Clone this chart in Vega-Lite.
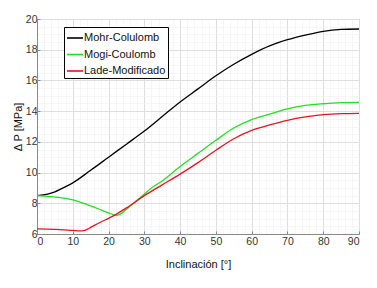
{
  "$schema": "https://vega.github.io/schema/vega-lite/v6.json",
  "width": 322,
  "height": 215,
  "padding": {"left": 37, "top": 19, "right": 18, "bottom": 54},
  "autosize": {"type": "none"},
  "background": "white",
  "config": {
    "view": {"stroke": "#8a8a8a", "strokeWidth": 1},
    "font": "Liberation Sans",
    "axis": {"labelFont": "Liberation Sans", "titleFont": "Liberation Sans", "labelColor": "#333", "titleColor": "#111", "labelFontSize": 10.5, "titleFontSize": 11, "titleFontWeight": "normal"}
  },
  "data": {"values": [
    {"s": "Mohr-Colulomb", "x": 0, "y": 8.5},
    {"s": "Mohr-Colulomb", "x": 3, "y": 8.6},
    {"s": "Mohr-Colulomb", "x": 5, "y": 8.75},
    {"s": "Mohr-Colulomb", "x": 8, "y": 9.08},
    {"s": "Mohr-Colulomb", "x": 10, "y": 9.33},
    {"s": "Mohr-Colulomb", "x": 15, "y": 10.15},
    {"s": "Mohr-Colulomb", "x": 20, "y": 11.0},
    {"s": "Mohr-Colulomb", "x": 25, "y": 11.85},
    {"s": "Mohr-Colulomb", "x": 30, "y": 12.7},
    {"s": "Mohr-Colulomb", "x": 35, "y": 13.65},
    {"s": "Mohr-Colulomb", "x": 40, "y": 14.6},
    {"s": "Mohr-Colulomb", "x": 45, "y": 15.45},
    {"s": "Mohr-Colulomb", "x": 50, "y": 16.3},
    {"s": "Mohr-Colulomb", "x": 55, "y": 17.05},
    {"s": "Mohr-Colulomb", "x": 60, "y": 17.7},
    {"s": "Mohr-Colulomb", "x": 65, "y": 18.25},
    {"s": "Mohr-Colulomb", "x": 70, "y": 18.65},
    {"s": "Mohr-Colulomb", "x": 75, "y": 18.95},
    {"s": "Mohr-Colulomb", "x": 80, "y": 19.2},
    {"s": "Mohr-Colulomb", "x": 85, "y": 19.32},
    {"s": "Mohr-Colulomb", "x": 90, "y": 19.35},
    {"s": "Mogi-Coulomb", "x": 0, "y": 8.5},
    {"s": "Mogi-Coulomb", "x": 3, "y": 8.45},
    {"s": "Mogi-Coulomb", "x": 6, "y": 8.38},
    {"s": "Mogi-Coulomb", "x": 8, "y": 8.32},
    {"s": "Mogi-Coulomb", "x": 10, "y": 8.22},
    {"s": "Mogi-Coulomb", "x": 12, "y": 8.08},
    {"s": "Mogi-Coulomb", "x": 14, "y": 7.92},
    {"s": "Mogi-Coulomb", "x": 16, "y": 7.75},
    {"s": "Mogi-Coulomb", "x": 18, "y": 7.56},
    {"s": "Mogi-Coulomb", "x": 20, "y": 7.38},
    {"s": "Mogi-Coulomb", "x": 22, "y": 7.22},
    {"s": "Mogi-Coulomb", "x": 23, "y": 7.26},
    {"s": "Mogi-Coulomb", "x": 24, "y": 7.42},
    {"s": "Mogi-Coulomb", "x": 26, "y": 7.8},
    {"s": "Mogi-Coulomb", "x": 28, "y": 8.2},
    {"s": "Mogi-Coulomb", "x": 30, "y": 8.6},
    {"s": "Mogi-Coulomb", "x": 32, "y": 9.0},
    {"s": "Mogi-Coulomb", "x": 35, "y": 9.45},
    {"s": "Mogi-Coulomb", "x": 40, "y": 10.4},
    {"s": "Mogi-Coulomb", "x": 45, "y": 11.25},
    {"s": "Mogi-Coulomb", "x": 50, "y": 12.1},
    {"s": "Mogi-Coulomb", "x": 55, "y": 12.9},
    {"s": "Mogi-Coulomb", "x": 60, "y": 13.45},
    {"s": "Mogi-Coulomb", "x": 65, "y": 13.8},
    {"s": "Mogi-Coulomb", "x": 70, "y": 14.15},
    {"s": "Mogi-Coulomb", "x": 75, "y": 14.37},
    {"s": "Mogi-Coulomb", "x": 80, "y": 14.48},
    {"s": "Mogi-Coulomb", "x": 85, "y": 14.55},
    {"s": "Mogi-Coulomb", "x": 90, "y": 14.57},
    {"s": "Lade-Modificado", "x": 0, "y": 6.33},
    {"s": "Lade-Modificado", "x": 5, "y": 6.3},
    {"s": "Lade-Modificado", "x": 10, "y": 6.23},
    {"s": "Lade-Modificado", "x": 12, "y": 6.2},
    {"s": "Lade-Modificado", "x": 13, "y": 6.22},
    {"s": "Lade-Modificado", "x": 14.5, "y": 6.36},
    {"s": "Lade-Modificado", "x": 16, "y": 6.56},
    {"s": "Lade-Modificado", "x": 18, "y": 6.8},
    {"s": "Lade-Modificado", "x": 20, "y": 7.02},
    {"s": "Lade-Modificado", "x": 22, "y": 7.26},
    {"s": "Lade-Modificado", "x": 25, "y": 7.7},
    {"s": "Lade-Modificado", "x": 30, "y": 8.5},
    {"s": "Lade-Modificado", "x": 35, "y": 9.2},
    {"s": "Lade-Modificado", "x": 40, "y": 9.9},
    {"s": "Lade-Modificado", "x": 45, "y": 10.65},
    {"s": "Lade-Modificado", "x": 50, "y": 11.45},
    {"s": "Lade-Modificado", "x": 55, "y": 12.2},
    {"s": "Lade-Modificado", "x": 60, "y": 12.75},
    {"s": "Lade-Modificado", "x": 65, "y": 13.1},
    {"s": "Lade-Modificado", "x": 70, "y": 13.4},
    {"s": "Lade-Modificado", "x": 75, "y": 13.62},
    {"s": "Lade-Modificado", "x": 80, "y": 13.77},
    {"s": "Lade-Modificado", "x": 85, "y": 13.84},
    {"s": "Lade-Modificado", "x": 90, "y": 13.86}
  ]},
  "layer": [
    {
      "mark": {"type": "line", "strokeOpacity": 0},
      "encoding": {
        "x": {"field": "x", "type": "quantitative", "scale": {"domain": [0, 90], "nice": false},
          "axis": {"orient": "top", "values": [2,4,6,8,12,14,16,18,22,24,26,28,32,34,36,38,42,44,46,48,52,54,56,58,62,64,66,68,72,74,76,78,82,84,86,88], "grid": true, "gridColor": "#ececec", "gridDash": [1, 1], "labels": false, "ticks": false, "domain": false, "title": null}},
        "y": {"field": "y", "type": "quantitative", "scale": {"domain": [6, 20], "nice": false},
          "axis": {"orient": "right", "values": [6.5,7,7.5,8.5,9,9.5,10.5,11,11.5,12.5,13,13.5,14.5,15,15.5,16.5,17,17.5,18.5,19,19.5], "grid": true, "gridColor": "#ececec", "gridDash": [1, 1], "labels": false, "ticks": false, "domain": false, "title": null}},
        "detail": {"field": "s"}
      }
    },
    {
      "mark": {"type": "line", "strokeWidth": 1.3, "interpolate": "monotone"},
      "encoding": {
        "x": {"field": "x", "type": "quantitative", "scale": {"domain": [0, 90], "nice": false},
          "axis": {"orient": "bottom", "values": [0,10,20,30,40,50,60,70,80,90], "grid": true, "gridColor": "#dedede", "domainColor": "#8a8a8a", "tickColor": "#8a8a8a", "tickSize": -3, "labelPadding": 5, "title": "Inclinación [°]", "titlePadding": 12}},
        "y": {"field": "y", "type": "quantitative", "scale": {"domain": [6, 20], "nice": false},
          "axis": {"orient": "left", "values": [6,8,10,12,14,16,18,20], "grid": true, "gridColor": "#dedede", "domainColor": "#8a8a8a", "tickColor": "#8a8a8a", "tickSize": -3, "labelPadding": 3, "title": "Δ P [MPa]", "titlePadding": 2}},
        "color": {"field": "s", "type": "nominal",
          "scale": {"domain": ["Mohr-Colulomb", "Mogi-Coulomb", "Lade-Modificado"], "range": ["#000000", "#22e022", "#e8141e"]},
          "legend": {"orient": "none", "legendX": 27, "legendY": 8, "title": null, "symbolType": "stroke", "symbolSize": 256, "symbolStrokeWidth": 1.6, "labelFont": "Liberation Sans", "labelFontSize": 11, "labelColor": "#111", "strokeColor": "#000", "fillColor": "white", "padding": 2, "rowPadding": 2.5, "labelOffset": 0}
        }
      }
    }
  ],
  "resolve": {"axis": {"x": "independent", "y": "independent"}}
}
